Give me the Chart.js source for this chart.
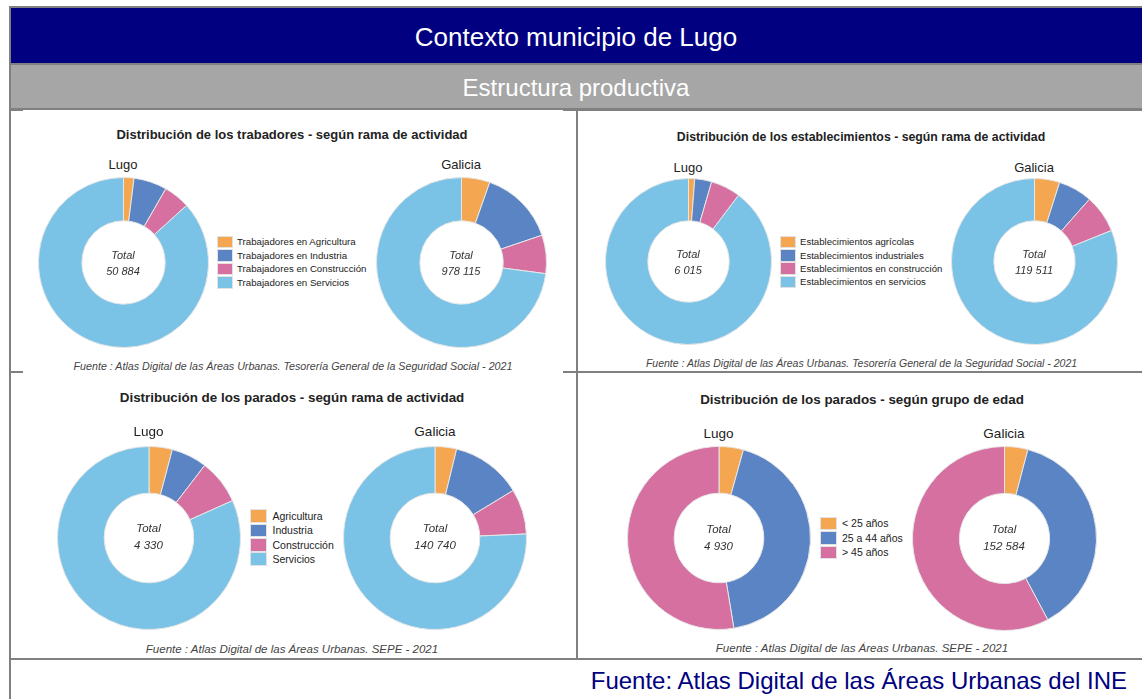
<!DOCTYPE html>
<html>
<head>
<meta charset="utf-8">
<script src="https://cdn.jsdelivr.net/npm/chart.js@4/dist/chart.umd.min.js"></script>
<style>
  html,body{margin:0;padding:0;background:#fff;}
  #page{position:relative;width:1142px;height:699px;overflow:hidden;background:#fff;font-family:Arial,"Liberation Sans",sans-serif;}
  .abs{position:absolute;}
  .line{position:absolute;background:#808080;}
  .t{position:absolute;white-space:nowrap;line-height:1;transform:translate(-50%,-50%);}
  .leg{position:absolute;white-space:nowrap;line-height:1;color:#222;}
  .sq{position:absolute;box-sizing:border-box;border:1px solid #e2e2e2;}
  canvas{position:absolute;}
</style>
</head>
<body>
<div id="page"></div>
<script>
// ---------- DATA ----------
const catTrabajadores = ['Trabajadores en Agricultura','Trabajadores en Industria','Trabajadores en Construcción','Trabajadores en Servicios'];
const trabajadoresLugo = [1010, 3210, 2550, 44114];
const trabajadoresGalicia = [52800, 140900, 71400, 713015];

const catEstablecimientos = ['Establecimientos agrícolas','Establecimientos industriales','Establecimientos en construcción','Establecimientos en servicios'];
const establecimientosLugo = [72, 199, 349, 5395];
const establecimientosGalicia = [5850, 7900, 8850, 96911];

const catParadosRama = ['Agricultura','Industria','Construcción','Servicios'];
const paradosRamaLugo = [178, 273, 342, 3537];
const paradosRamaGalicia = [5350, 17600, 11250, 106540];

const catParadosEdad = ['< 25 años','25 a 44 años','> 45 años'];
const paradosEdadLugo = [212, 2125, 2593];
const paradosEdadGalicia = [6250, 58150, 88184];

const seriesNames = ['Lugo','Galicia'];
const colors4 = ['#f5a650','#5b84c4','#d570a1','#7ac3e6'];
const colors3 = ['#f5a650','#5b84c4','#d570a1'];

const headerTitle = 'Contexto municipio de Lugo';
const sectionTitle = 'Estructura productiva';
const footerText = 'Fuente: Atlas Digital de las Áreas Urbanas del INE';
const srcTGSS = 'Fuente : Atlas Digital de las Áreas Urbanas. Tesorería General de la Seguridad Social - 2021';
const srcSEPE = 'Fuente : Atlas Digital de las Áreas Urbanas. SEPE - 2021';

// ---------- LAYOUT ----------
const page = document.getElementById('page');
function box(cls, l, t, w, h, bg){
  const d = document.createElement('div'); d.className = cls;
  Object.assign(d.style,{left:l+'px',top:t+'px',width:w+'px',height:h+'px'});
  if(bg) d.style.background = bg;
  page.appendChild(d); return d;
}
function txt(s, cx, cy, size, opts){
  opts = opts || {};
  const d = document.createElement('div'); d.className = 't';
  d.textContent = s;
  Object.assign(d.style,{left:cx+'px',top:cy+'px',fontSize:size+'px',color:opts.color||'#222',
    fontWeight:opts.bold?'bold':'normal',fontStyle:opts.italic?'italic':'normal'});
  page.appendChild(d); return d;
}
function fmt(n){ return String(n).replace(/\B(?=(\d{3})+(?!\d))/g,' '); }

// header bands
box('abs', 11, 8, 1131, 55, '#000080');
box('abs', 11, 65, 1131, 43, '#a6a6a6');
box('line', 9, 6, 1133, 2);
box('line', 9, 63, 1133, 2);
box('line', 9, 108, 1133, 2);
box('line', 9, 6, 2, 693);
// panel grid lines
box('line', 11, 109, 12, 2);
box('line', 563, 109, 579, 2);
box('line', 576, 110, 2, 549);
box('line', 11, 371, 12, 2);
box('line', 563, 371, 579, 2);
box('line', 9, 658, 1133, 2);

txt(headerTitle, 576, 37, 26, {color:'#ffffff'});
txt(sectionTitle, 576, 88, 24, {color:'#ffffff'});
const ft = document.createElement('div');
ft.className='leg'; ft.textContent = footerText;
Object.assign(ft.style,{right:(1142-1127)+'px',top:'669px',fontSize:'24px',color:'#000080'});
page.appendChild(ft);

const panels = [
  {title:'Distribución de los trabadores - según rama de actividad', tx:292, ty:134, tsize:13,
   cats:catTrabajadores, vals:[trabajadoresLugo, trabajadoresGalicia], colors:colors4,
   donuts:[{cx:123,cy:262,r:85},{cx:461,cy:262,r:85}], labelY:164, lsize:13, totY:[255,271], csize:11,
   leg:{x:216.5,y:242,pitch:13.5,size:9.7,sqW:16,sqH:12.5,tx:237}, src:srcTGSS, sx:293, sy:366, ssize:10.7},
  {title:'Distribución de los establecimientos - según rama de actividad', tx:861, ty:137, tsize:12.3,
   cats:catEstablecimientos, vals:[establecimientosLugo, establecimientosGalicia], colors:colors4,
   donuts:[{cx:688,cy:261.5,r:83},{cx:1034,cy:261.5,r:83}], labelY:167, lsize:13, totY:[254,270], csize:11,
   leg:{x:779.5,y:242,pitch:13.3,size:9.6,sqW:16,sqH:12.5,tx:800}, src:srcTGSS, sx:861.5, sy:362.5, ssize:10.5},
  {title:'Distribución de los parados - según rama de actividad', tx:292, ty:398, tsize:13.4,
   cats:catParadosRama, vals:[paradosRamaLugo, paradosRamaGalicia], colors:colors4,
   donuts:[{cx:148.5,cy:537.5,r:91.5},{cx:435,cy:537.5,r:91.5}], labelY:432, lsize:13.5, totY:[529,546], csize:11.5,
   leg:{x:250,y:516,pitch:14.4,size:10.5,sqW:17,sqH:13.5,tx:272.5}, src:srcSEPE, sx:292, sy:649.5, ssize:11.5},
  {title:'Distribución de los parados - según grupo de edad', tx:862, ty:400, tsize:13.4,
   cats:catParadosEdad, vals:[paradosEdadLugo, paradosEdadGalicia], colors:colors3,
   donuts:[{cx:718.5,cy:538,r:91.5},{cx:1004,cy:538,r:92}], labelY:434, lsize:13.5, totY:[530,547], csize:11.5,
   leg:{x:819.5,y:523.7,pitch:14.5,size:10.5,sqW:17,sqH:13.5,tx:842}, src:srcSEPE, sx:862, sy:649, ssize:11.5}
];

panels.forEach(p=>{
  txt(p.title, p.tx, p.ty, p.tsize, {bold:true, color:'#222'});
  txt(p.src, p.sx, p.sy, p.ssize, {italic:true, color:'#444'});
  // legend
  p.cats.forEach((c,i)=>{
    const y = p.leg.y + i*p.leg.pitch;
    box('sq', p.leg.x, y - p.leg.sqH/2, p.leg.sqW, p.leg.sqH, p.colors[i]);
    const l = document.createElement('div'); l.className='leg'; l.textContent = c;
    Object.assign(l.style,{left:p.leg.tx+'px',top:(y - p.leg.size/2)+'px',fontSize:p.leg.size+'px'});
    page.appendChild(l);
  });
  p.donuts.forEach((d,k)=>{
    const values = p.vals[k];
    const total = values.reduce((a,b)=>a+b,0);
    txt(seriesNames[k], d.cx, p.labelY, p.lsize, {color:'#222'});
    const size = Math.round(2*d.r + 1);
    const cv = document.createElement('canvas');
    cv.width = size; cv.height = size;
    Object.assign(cv.style,{left:(d.cx - size/2)+'px',top:(d.cy - size/2)+'px',width:size+'px',height:size+'px'});
    page.appendChild(cv);
    new Chart(cv.getContext('2d'),{
      type:'doughnut',
      data:{labels:p.cats, datasets:[{data:values, backgroundColor:p.colors, borderColor:'#e6e6e6', borderWidth:1}]},
      options:{responsive:false, animation:false, cutout:'49%',
        layout:{padding:0},
        plugins:{legend:{display:false}, tooltip:{enabled:false}, title:{display:false}}}
    });
    txt('Total', d.cx, p.totY[0], p.csize, {italic:true, color:'#333'});
    txt(fmt(total), d.cx, p.totY[1], p.csize, {italic:true, color:'#333'});
  });
});
</script>
</body>
</html>
